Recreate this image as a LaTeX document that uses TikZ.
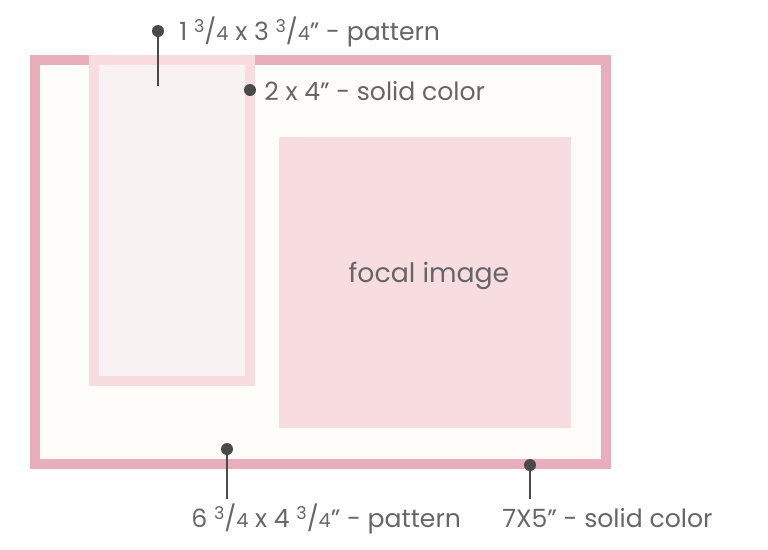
\documentclass[tikz,border=0pt]{standalone}
\usepackage{fontspec}
\setmainfont{Poppins}
\usepackage{tikz}
\usetikzlibrary{positioning}
\usetikzlibrary{calc}

\definecolor{framepink}{HTML}{E8AEBB}
\definecolor{cream}{HTML}{FFFDF9}
\definecolor{cardpink}{HTML}{F8DCE0}
\definecolor{cardinner}{HTML}{F8F2F2}
\definecolor{focalpink}{HTML}{F7DCE0}
\definecolor{inkgray}{HTML}{4A4A4A}
\definecolor{textgray}{HTML}{666666}

\newcommand{\frc}[2]{\raisebox{0.3em}{\fontsize{10}{10}\selectfont #1}/{\fontsize{11}{11}\selectfont #2}}

\tikzset{
	pin dot/.style={circle,fill=inkgray,inner sep=0pt,minimum size=0.24cm},
	pin line/.style={draw=inkgray,line width=0.8pt},
	size label/.style={font=\fontsize{14.3}{16}\selectfont,text=textgray,inner sep=0pt}
}

\begin{document}
\begin{tikzpicture}[x=0.02cm,y=-0.02cm]
	\useasboundingbox (0,0) rectangle (768,549);
	% frame and backgrounds
	\fill[framepink] (30,55) rectangle (611,469);
	\fill[cream] (40,65) rectangle (601,459);
	\fill[cardpink] (89,55) rectangle (255,386);
	\fill[cardinner] (99,65) rectangle (245,376);
	\node[fill=focalpink,minimum width=292*0.02cm,minimum height=291*0.02cm,inner sep=0pt] at (425,282.5) (F) {};
	\node[size label,font=\fontsize{15.2}{17}\selectfont,anchor=base] at (429,282) (FL) {focal image};
	
	% pins
	\node[pin dot] at (158,31) (D1) {};
	\coordinate (E1) at (158,86);
	\draw[pin line] (D1.center) -- (E1);
	\node[size label,anchor=base west] at (179,40) (L1) {1 \frc{3}{4} x 3 \frc{3}{4}” - pattern};
	
	\node[pin dot] at (250,90) (D2) {};
	\node[size label,anchor=base west] at (264,100) (L2) {2 x 4” - solid color};
	
	\node[pin dot] at (227,449) (D3) {};
	\node[size label,anchor=base west] at (191,527) (L3) {6 \frc{3}{4} x 4 \frc{3}{4}” - pattern};
	\coordinate (E3) at (227,499);
	\draw[pin line] (D3.center) -- (E3);
	
	\node[pin dot] at (530,465) (D4) {};
	\node[size label,anchor=base west] at (502,527) (L4) {7X5" - solid color};
	\coordinate (E4) at (530,499);
	\draw[pin line] (D4.center) -- (E4);
\end{tikzpicture}
\end{document}
